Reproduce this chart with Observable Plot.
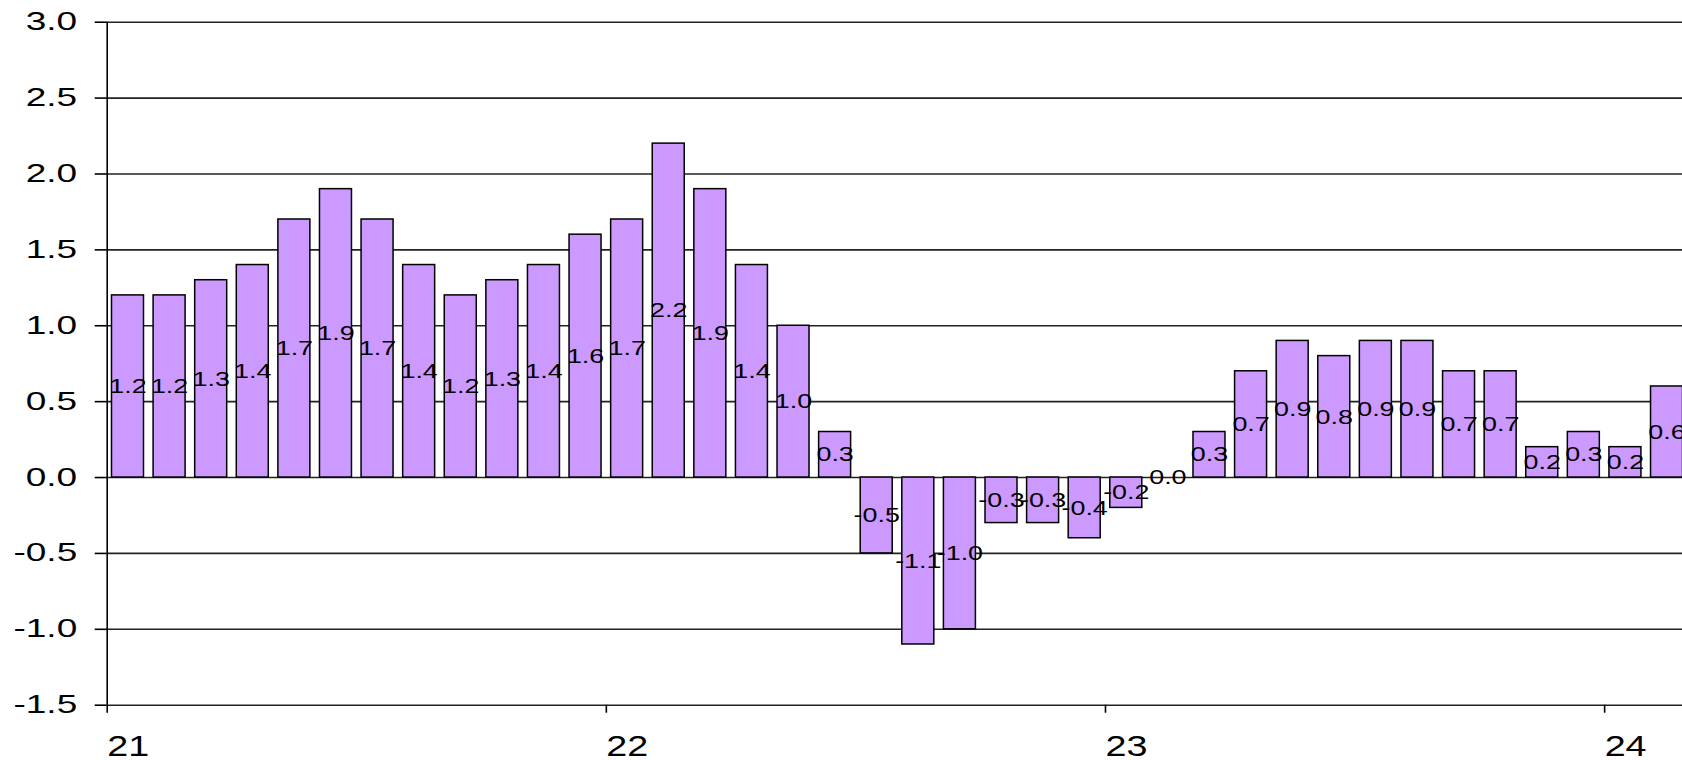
<!DOCTYPE html>
<html>
<head>
<meta charset="utf-8">
<script src="https://cdn.jsdelivr.net/npm/d3@7"></script>
<script src="https://cdn.jsdelivr.net/npm/@observablehq/plot@0.6"></script>
<style>
  html, body { margin: 0; padding: 0; background: white; overflow: hidden; }
</style>
</head>
<body>
<script>
// Monthly values, starting at the beginning of year "21"
const values = [1.2, 1.2, 1.3, 1.4, 1.7, 1.9, 1.7, 1.4, 1.2, 1.3, 1.4, 1.6,
                1.7, 2.2, 1.9, 1.4, 1.0, 0.3, -0.5, -1.1, -1.0, -0.3, -0.3, -0.4,
                -0.2, 0.0, 0.3, 0.7, 0.9, 0.8, 0.9, 0.9, 0.7, 0.7, 0.2, 0.3,
                0.2, 0.6];
const startYear = 21;
const xTicks = [21, 22, 23, 24];
const xTickLabels = ["21", "22", "23", "24"];
const yTicks = [-1.5, -1.0, -0.5, 0.0, 0.5, 1.0, 1.5, 2.0, 2.5, 3.0];

const data = values.map((v, i) => ({
  x1: startYear + i / 12,
  x2: startYear + (i + 1) / 12,
  v
}));

const fmt = d => d.toFixed(1);

const svg = Plot.plot({
  width: 1682,
  height: 760,
  marginTop: 21.7,
  marginBottom: 55.3,
  marginLeft: 106.7,
  marginRight: 0,
  style: {
    fontFamily: "'Liberation Sans', Arial, sans-serif",
    color: "black",
    background: "white"
  },
  x: { type: "linear", domain: [21, 24.156], label: null },
  y: { domain: [-1.5, 3], label: null },
  marks: [
    Plot.ruleY(yTicks, { stroke: "#222", strokeWidth: 1.6 }),
    Plot.rectY(data, {
      x1: "x1", x2: "x2", y: "v",
      insetLeft: 4.8, insetRight: 4.8,
      fill: "#CC99FF", stroke: "black", strokeWidth: 1.5
    }),
    Plot.ruleX([21], { y1: -1.5, y2: 3, stroke: "black", strokeWidth: 1.6 }),
    Plot.axisY(yTicks, {
      tickSize: 12, tickPadding: 18, fontSize: 25,
      tickFormat: fmt, strokeWidth: 1.6, label: null
    }),
    Plot.axisX(xTicks, {
      tickSize: 8, tickPadding: 22, fontSize: 29, textAnchor: "start",
      tickFormat: d => xTickLabels[xTicks.indexOf(d)], strokeWidth: 1.6, label: null
    }),
    Plot.text(data, {
      x: d => (d.x1 + d.x2) / 2,
      y: d => d.v / 2,
      text: d => fmt(d.v),
      fontSize: 21,
      fill: "black"
    })
  ]
});

document.body.append(svg);

// Horizontal stretch of the text, as in the reference picture
function stretch(selector, k) {
  svg.querySelectorAll(selector).forEach(t => {
    const b = t.getBBox();
    const anchor = getComputedStyle(t).textAnchor;
    const ax = anchor === "end" ? b.x + b.width : anchor === "middle" ? b.x + b.width / 2 : b.x;
    const tr = t.getAttribute("transform") || "";
    t.setAttribute("transform", `${tr} translate(${ax},0) scale(${k},1) translate(${-ax},0)`);
  });
}
stretch('g[aria-label="y-axis tick label"] text', 1.48);
stretch('g[aria-label="x-axis tick label"] text', 1.3);
stretch('g[aria-label="text"] text', 1.28);
</script>
</body>
</html>
